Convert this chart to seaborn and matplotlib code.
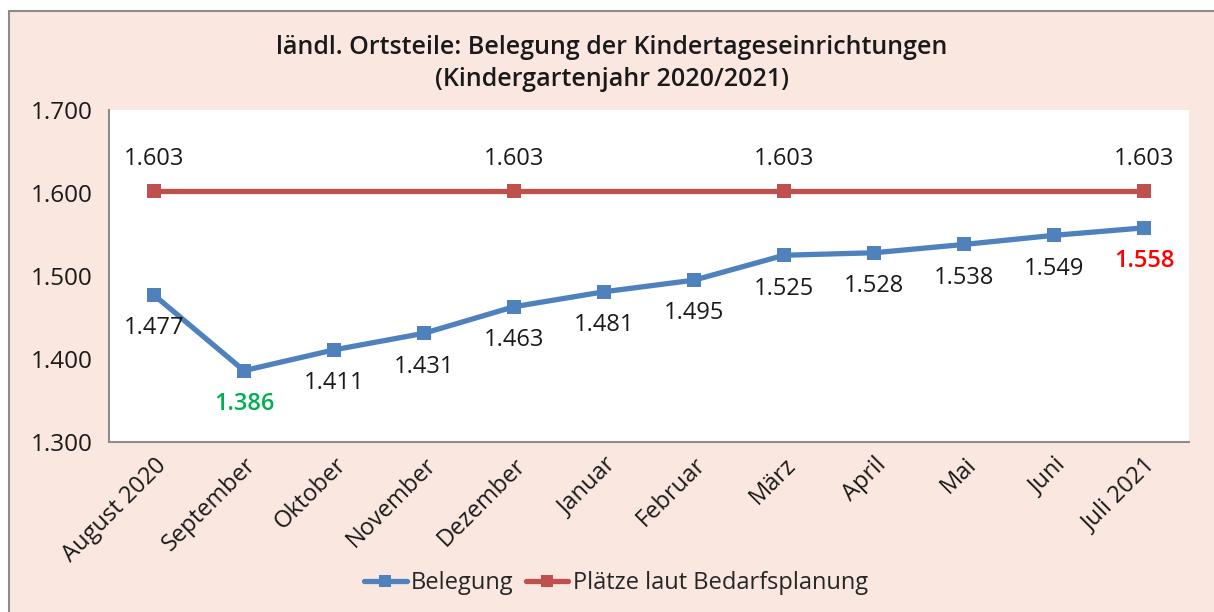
import matplotlib
matplotlib.use("Agg")
import matplotlib.pyplot as plt
from matplotlib.lines import Line2D
from matplotlib.patches import Rectangle
from matplotlib.ticker import FixedLocator, FuncFormatter
import seaborn as sns
import pandas as pd

# Monate des Kindergartenjahres
monate = ["August 2020", "September", "Oktober", "November", "Dezember", "Januar",
          "Februar", "März", "April", "Mai", "Juni", "Juli 2021"]
# Belegung je Monat
belegung = [1477, 1386, 1411, 1431, 1463, 1481, 1495, 1525, 1528, 1538, 1549, 1558]
# Plätze laut Bedarfsplanung (Stützpunkte)
plaetze_monate = ["August 2020", "Dezember", "März", "Juli 2021"]
plaetze = [1603, 1603, 1603, 1603]
y_ticks = [1300, 1400, 1500, 1600, 1700]

BG = "#F9E7E0"
BLUE = "#4F81BD"
RED = "#C0504D"
TXT = "#1A1A1A"
FONT = "Open Sans"

sns.set_theme(style="white")
plt.rcParams["font.family"] = [FONT, "DejaVu Sans"]

def de_num(v):
    return f"{int(round(v)):,}".replace(",", ".")

fig = plt.figure(figsize=(12.14, 6.12), dpi=100)
fig.patch.set_facecolor("white")
W, H = 1214, 612
# Hintergrundfläche mit Rahmen links und oben
fig.add_artist(Rectangle((9 / W, 0), 1 - 9 / W, 1 - 11 / H, transform=fig.transFigure,
                         facecolor=BG, edgecolor="none", zorder=-10))
fig.add_artist(Line2D([9 / W, 1], [1 - 11 / H, 1 - 11 / H], transform=fig.transFigure,
                      color="#8C8C8C", lw=1.5))
fig.add_artist(Line2D([9 / W, 9 / W], [0, 1 - 11 / H], transform=fig.transFigure,
                      color="#8C8C8C", lw=1.5))

ax = fig.add_axes([109 / W, 1 - 442 / H, (1189 - 109) / W, (442 - 110) / H])
ax.set_facecolor("white")

pos = {m: i for i, m in enumerate(monate)}
df_b = pd.DataFrame({"x": [pos[m] for m in monate], "y": belegung})
df_p = pd.DataFrame({"x": [pos[m] for m in plaetze_monate], "y": plaetze})

sns.lineplot(data=df_p, x="x", y="y", ax=ax, color=RED, lw=3.8, marker="s",
             markersize=10, markeredgewidth=0, label="Plätze laut Bedarfsplanung")
sns.lineplot(data=df_b, x="x", y="y", ax=ax, color=BLUE, lw=3.8, marker="s",
             markersize=10, markeredgewidth=0, label="Belegung")

# Datenbeschriftungen
for x, y in zip(df_b["x"], df_b["y"]):
    col = TXT
    weight = "normal"
    if x == 1:
        col, weight = "#00B050", "semibold"
    elif x == len(monate) - 1:
        col, weight = "#FF0000", "semibold"
    ax.annotate(de_num(y), (x, y), xytext=(0, -24), textcoords="offset points",
                ha="center", va="center", fontsize=17, color=col, fontweight=weight)
for x, y in zip(df_p["x"], df_p["y"]):
    ax.annotate(de_num(y), (x, y), xytext=(0, 23), textcoords="offset points",
                ha="center", va="center", fontsize=17, color=TXT)

ax.set_xlim(-0.5, len(monate) - 0.5)
ax.set_ylim(y_ticks[0], y_ticks[-1])
ax.yaxis.set_major_locator(FixedLocator(y_ticks))
ax.yaxis.set_major_formatter(FuncFormatter(lambda v, p: de_num(v)))
ax.set_xticks([i - 0.5 for i in range(len(monate) + 1)])
ax.set_xticklabels([])
ax.set_xticks(range(len(monate)), minor=True)
ax.set_xticklabels(monate, minor=True, rotation=45, ha="right", rotation_mode="anchor",
                   fontsize=17, color=TXT)
ax.tick_params(axis="x", which="minor", length=0, pad=8)
ax.tick_params(axis="x", which="major", length=6, width=1.3, color="#8C8C8C", direction="out")
ax.tick_params(axis="y", length=6, width=1.3, color="#8C8C8C", direction="out",
               labelsize=17.5, labelcolor=TXT, pad=6)
ax.set_xlabel("")
ax.set_ylabel("")
for s in ["top", "right"]:
    ax.spines[s].set_visible(False)
for s in ["left", "bottom"]:
    ax.spines[s].set_color("#8C8C8C")
    ax.spines[s].set_linewidth(1.5)

ax.get_legend().remove()
handles = [Line2D([], [], color=BLUE, lw=3.8, marker="s", markersize=9, markeredgewidth=0),
           Line2D([], [], color=RED, lw=3.8, marker="s", markersize=9, markeredgewidth=0)]
fig.legend(handles, ["Belegung", "Plätze laut Bedarfsplanung"], loc="center",
           bbox_to_anchor=(616 / W, 1 - 583 / H), ncol=2, frameon=False, fontsize=17,
           handlelength=1.8, handletextpad=0.2, columnspacing=0.5)

fig.text(612 / W, 1 - 47 / H, "ländl. Ortsteile: Belegung der Kindertageseinrichtungen",
         ha="center", va="center", fontsize=18, color=TXT, fontweight="semibold")
fig.text(612 / W, 1 - 79 / H, "(Kindergartenjahr 2020/2021)",
         ha="center", va="center", fontsize=18, color=TXT, fontweight="semibold")

fig.savefig("out.png", dpi=100, facecolor=fig.get_facecolor())
